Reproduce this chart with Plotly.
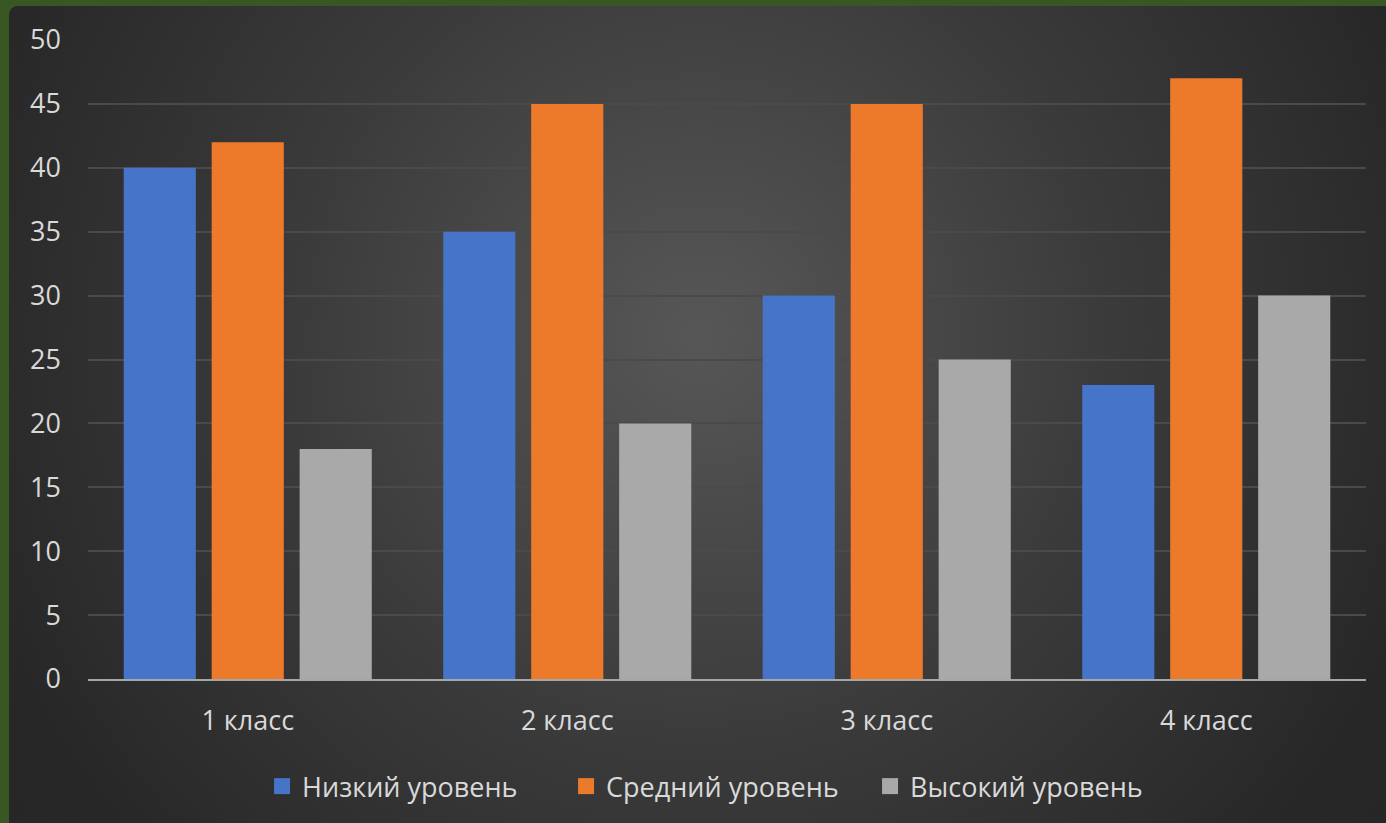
import plotly.graph_objects as go
import base64

categories = ["1 класс", "2 класс", "3 класс", "4 класс"]
series_names = ["Низкий уровень", "Средний уровень", "Высокий уровень"]
low = [40, 35, 30, 23]
mid = [42, 45, 45, 47]
high = [18, 20, 25, 30]
colors = ["#4674C8", "#EC7A2A", "#A9A9A9"]
y_ticks = [0, 5, 10, 15, 20, 25, 30, 35, 40, 45, 50]

W, H = 1386, 823
ml, mr, mt, mb = 88, 20, 40, 142
pw, ph = W - ml - mr, H - mt - mb

BW, BH = W, H  # background image size (extends past the page edge)
svg = f'''<svg xmlns="http://www.w3.org/2000/svg" width="{BW}" height="{BH}" viewBox="0 0 {BW} {BH}" preserveAspectRatio="none">
<defs><radialGradient id="g" gradientUnits="userSpaceOnUse" cx="690" cy="330" r="900">
<stop offset="0" stop-color="#575757"/><stop offset="0.45" stop-color="#3b3b3b"/><stop offset="0.85" stop-color="#272727"/><stop offset="1" stop-color="#262626"/>
</radialGradient></defs>
<path d="M0,10 Q0,0 10,0 L{BW},0 L{BW},{BH} L0,{BH} Z" fill="url(#g)"/>
</svg>'''
src = "data:image/svg+xml;base64," + base64.b64encode(svg.encode()).decode()

fig = go.Figure()
for name, vals, c in zip(series_names, [low, mid, high], colors):
    fig.add_trace(go.Bar(x=categories, y=vals, name=name, showlegend=False,
                         marker=dict(color=c, line=dict(width=0))))
for name, c in zip(series_names, colors):
    fig.add_trace(go.Scatter(x=[None], y=[None], mode="markers", name=name,
                             marker=dict(symbol="square", size=19, color=c)))

font_color = "#D9D9D9"
fig.update_layout(
    width=W, height=H,
    margin=dict(l=ml, r=mr, t=mt, b=mb),
    paper_bgcolor="#385723",
    plot_bgcolor="rgba(0,0,0,0)",
    font=dict(family="Open Sans", size=27, color=font_color),
    barmode="group",
    bargap=0.174,
    bargroupgap=0.18,
    showlegend=True,
    legend=dict(orientation="h", x=0.493, xanchor="center", y=-0.13, yanchor="top",
                font=dict(size=27, color=font_color), entrywidth=259,
                itemwidth=30, bgcolor="rgba(0,0,0,0)"),
    images=[dict(source=src, xref="paper", yref="paper",
                 x=(9 - ml) / pw, y=(H - mb - 6) / ph,
                 sizex=BW / pw, sizey=BH / ph,
                 sizing="stretch", xanchor="left", yanchor="top", layer="below")],
)
fig.update_yaxes(range=[0, 50], tickvals=y_ticks, showgrid=True, gridcolor="#4a4a4a",
                 gridwidth=2, zeroline=False, showline=False, ticks="",
                 ticklabelstandoff=26, tickfont=dict(size=27, color=font_color))
fig.update_xaxes(showline=True, linecolor="#a6a6a6", linewidth=2, ticks="",
                 tickfont=dict(size=27, color=font_color), ticklabelstandoff=17)

fig.write_html("out.html", config={"displayModeBar": False},
               post_script="document.body.style.margin='0';document.body.style.background='#385723';")
